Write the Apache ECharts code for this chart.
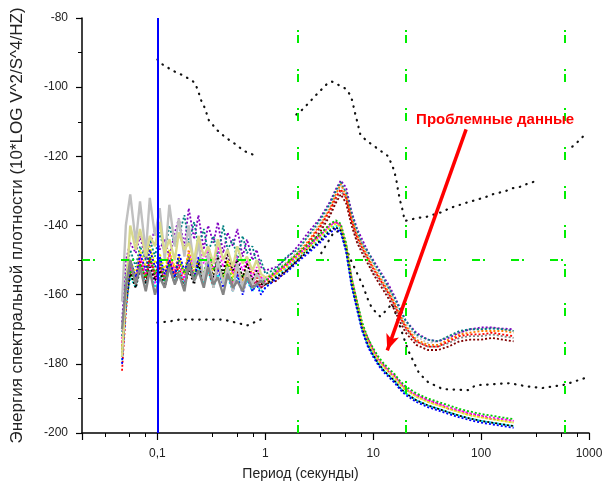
<!DOCTYPE html>
<html>
<head>
<meta charset="utf-8">
<script src="https://cdn.jsdelivr.net/npm/echarts@6/dist/echarts.min.js"></script>
<style>
html,body{margin:0;padding:0;background:#fff;}
#c{width:607px;height:486px;}
</style>
</head>
<body>
<div id="c"></div>
<script>
// ---- axis / tick data ----
const xMin = 0.02, xMax = 1000;
const yMin = -200, yMax = -80, yStep = 20;
const xTitle = 'Период (секунды)';
const yTitle = 'Энергия спектральной плотности (10*LOG V^2/S^4/HZ)';
const noteText = 'Проблемные данные';

// shared period grid (seconds)
const periodsLeft = [0.047, 0.051, 0.056, 0.063, 0.069, 0.078, 0.085, 0.095, 0.105, 0.117, 0.129, 0.145, 0.158, 0.178, 0.195, 0.219, 0.240, 0.269, 0.295, 0.331, 0.363, 0.407, 0.447, 0.501, 0.550, 0.617, 0.676, 0.759, 0.832, 0.912, 1.0];
const periodsRight = [1.26, 1.58, 2.0, 2.5, 3.2, 4.0, 4.5, 5.0, 5.6, 6.3, 7.1, 7.9, 8.9, 10, 11.2, 12.6, 14.1, 15.8, 17.8, 20, 25, 32, 40, 50, 63, 79, 100, 126, 158, 200];

// ---- PSD series (dB), left part then right part ----
const lightGrayDb = [-162, -140, -131, -145, -133, -148, -132, -143, -135, -150, -134, -146, -138, -149, -140, -152, -145, -156, -148, -158, -150, -157, -152, -159, -151, -158, -153, -157, -154, -156, -155,
  -153, -150.5, -147.5, -143, -139.5, -134.5, -131, -128.5, -130, -137.5, -142.5, -145, -148.5, -151, -154, -156.5, -158, -162, -165.5, -168.5, -172, -174, -173.5, -172, -171, -170, -170, -169.5, -170, -170.5];
const khakiDb = [-178, -160, -140, -147, -141, -149, -143, -146, -139, -148, -144, -150, -142, -147, -145, -150, -143, -149, -146, -151, -144, -150, -147, -152, -146, -151, -149, -153, -150, -154, -155,
  -154, -152, -149.5, -146, -143.5, -140, -139, -140.5, -146.5, -155.5, -163, -169.5, -173, -176.5, -179.5, -181, -182.5, -184.5, -186, -187.5, -189.5, -191, -192, -193, -194, -195, -195.5, -196, -196.5, -197];
const darkGrayDb = [-170, -158, -150, -157, -152, -159, -153, -160, -155, -158, -152, -157, -154, -159, -151, -156, -153, -158, -152, -157, -155, -160, -154, -158, -156, -159, -155, -158, -157, -156, -157,
  -155, -152.5, -149, -145.5, -141, -136.5, -132.5, -130, -132, -139, -144.5, -147, -150, -153.5, -155.5, -158, -160.5, -163.5, -167, -170, -173.5, -175, -175, -174, -172.5, -172, -172, -171.5, -172, -172.5];
const purpleDb = [-168, -150, -145, -148, -143, -150, -146, -141, -147, -144, -149, -142, -138, -146, -135, -144, -137, -147, -140, -145, -139, -148, -142, -146, -141, -149, -144, -150, -147, -152, -153,
  -152, -149.5, -146, -142, -138, -133, -129.5, -127, -129, -136, -141, -144, -147.5, -150, -152.5, -155, -157.5, -160.5, -164, -167.5, -171, -173, -173.5, -172.5, -171, -170, -169.5, -169.5, -169.8, -170];
const tealDb = [-172, -155, -147, -152, -146, -150, -144, -149, -142, -148, -140, -146, -143, -137, -145, -139, -146, -141, -148, -143, -149, -140, -147, -144, -150, -143, -148, -146, -151, -150, -154,
  -152.5, -149, -147, -143, -138.5, -133.5, -130, -127.5, -130.5, -136.5, -141.5, -145.5, -147.5, -150.5, -153, -155.5, -158.5, -161, -164.5, -167.5, -171.5, -173, -173.5, -172, -170.5, -170, -170, -169.8, -170, -170.5];
const orangeDb = [-175, -158, -150, -155, -149, -153, -147, -152, -150, -155, -148, -153, -149, -154, -147, -152, -150, -155, -149, -153, -151, -156, -150, -154, -152, -155, -151, -154, -153, -155, -155,
  -154, -151, -148, -144.5, -140, -135, -131, -128, -131.5, -138, -143, -146, -149, -152, -154.5, -157, -159.5, -162.5, -166, -169, -173, -174.5, -174.5, -173, -171.5, -171, -170.5, -170.5, -170.5, -171];
const redDb = [-182, -165, -152, -157, -150, -155, -149, -154, -151, -156, -150, -155, -152, -157, -151, -155, -150, -156, -152, -157, -151, -155, -153, -157, -152, -156, -154, -156, -155, -157, -156,
  -154.5, -151.5, -148.5, -145, -140.5, -135.5, -132, -129.5, -132, -138.5, -143.5, -146.5, -149.5, -152.5, -155, -157.5, -160, -163, -166.5, -169.5, -173.5, -175, -175, -173.5, -172, -171.5, -171.5, -171, -171.5, -172];
const wineDb = [-176, -160, -153, -158, -151, -156, -150, -155, -152, -157, -151, -156, -153, -158, -152, -156, -151, -157, -153, -158, -152, -156, -154, -158, -153, -157, -155, -157, -156, -158, -157,
  -156, -153, -150, -146.5, -142, -137, -133.5, -131, -133.5, -140, -145, -148, -151, -154, -156.5, -159, -161.5, -164.5, -168, -171, -174.5, -176, -176, -175, -173.5, -173, -173, -172.5, -173, -173.5];
const magentaDb = [-174, -160, -152, -156, -149, -154, -151, -157, -150, -155, -148, -153, -150, -156, -148, -152, -145, -151, -147, -153, -146, -152, -148, -154, -149, -153, -150, -155, -152, -155, -156,
  -153.5, -151.5, -148.5, -146, -143, -140, -139, -140, -145.5, -155.5, -162.5, -168.5, -173, -176, -178.5, -180.5, -182, -183.5, -185.5, -187, -189, -190.5, -191.5, -192.5, -193.5, -194.3, -195, -195.5, -196, -196.5];
const blueDb = [-180, -163, -150, -155, -148, -153, -147, -152, -149, -154, -150, -155, -148, -153, -150, -156, -149, -155, -151, -157, -152, -158, -153, -159, -154, -160, -155, -159, -157, -160, -158,
  -155.5, -153.5, -150.5, -148, -145, -142, -141, -142, -147.5, -157.5, -164.5, -170.5, -175, -178, -180.5, -182.5, -184, -185.5, -187.5, -189, -191, -192.5, -193.5, -194.5, -195.5, -196.3, -197, -197.5, -198, -198.5];
const greenDb = [-177, -162, -153, -157, -151, -155, -149, -154, -150, -156, -151, -155, -150, -154, -149, -155, -150, -154, -148, -153, -150, -155, -151, -156, -152, -155, -153, -156, -154, -156, -156,
  -153, -151, -148, -145.5, -142.5, -139.5, -138.5, -139.5, -145, -155, -162, -168, -172.5, -175.5, -178, -180, -181.5, -183, -185, -186.5, -188.5, -190, -191, -192, -193, -193.8, -194.5, -195, -195.5, -196];
const cyanDb = [-179, -164, -155, -158, -152, -157, -153, -158, -154, -157, -152, -156, -153, -157, -151, -156, -152, -157, -153, -158, -154, -157, -155, -159, -155, -158, -156, -159, -157, -159, -158,
  -154.5, -152.5, -149.5, -147, -144, -141, -140, -141, -147, -157, -164, -170, -174.5, -177.5, -180, -182, -183.5, -185, -187, -188.5, -190.5, -192, -193, -194, -195, -195.8, -196.5, -197, -197.5, -198];
const yellowDb = [-176, -161, -150, -154, -147, -152, -146, -151, -148, -153, -147, -152, -149, -154, -148, -153, -150, -155, -149, -154, -151, -156, -150, -155, -152, -156, -153, -156, -154, -156, -157,
  -154, -152, -149, -146.5, -143.5, -140.5, -139.5, -140.5, -146, -156, -163, -169, -173.5, -176.5, -179, -181, -182.5, -184, -186, -187.5, -189.5, -191, -192, -193, -194, -194.8, -195.5, -196, -196.5, -197];
const blackDb = [-178, -162, -154, -158, -153, -157, -152, -156, -153, -158, -152, -157, -154, -158, -153, -157, -151, -156, -150, -155, -149, -154, -148, -153, -150, -155, -151, -156, -153, -157, -157,
  -155, -153, -150, -147.5, -144.5, -141.5, -140.5, -141.5, -147, -157, -164, -170, -174.5, -177.5, -180, -182, -183.5, -185, -187, -188.5, -190.5, -192, -193, -194, -195, -195.8, -196.5, -197, -197.5, -198];
const pinkDb = [-175, -158, -153, -156, -151, -155, -150, -155, -152, -156, -150, -154, -151, -155, -149, -154, -150, -155, -151, -156, -152, -157, -153, -157, -154, -157, -155, -158, -156, -158, -157,
  -153.5, -151, -149, -145.5, -143, -139.5, -139, -140, -146, -155, -162.5, -169, -172.5, -176, -179, -180.5, -182.5, -183.5, -185.5, -187.5, -189, -190.5, -191.5, -193, -193.5, -194.5, -195, -196, -196, -196.5];

// ---- noise model curves (dotted black) ----
const nhnm1P = [0.1, 0.11, 0.14, 0.17, 0.21, 0.225, 0.245, 0.255, 0.267, 0.28, 0.30, 0.36, 0.43, 0.53, 0.63, 0.84];
const nhnm1Db = [-92, -93.3, -95.3, -96.5, -98.1, -99, -102.2, -103.9, -105, -106.8, -109.6, -112.5, -114.6, -116.5, -118.4, -120];
const nhnm2P = [1.94, 2.2, 2.4, 2.97, 3.83, 4.17, 5.6, 6.1, 6.4, 6.7, 7.0, 7.6, 8.6, 11.6, 13.8, 15.6, 16.4, 17.1, 17.9, 18.7, 19.6, 25.6, 30.4, 35, 43.6, 51, 76.5, 88, 102, 117, 130, 167, 197, 226, 290, 345];
const nhnm2Db = [-107.9, -106.5, -105.3, -102.2, -98.7, -98.4, -100.5, -102.2, -103.9, -106.8, -109.1, -113.7, -115.4, -118.3, -120, -124, -126.9, -130.4, -133.2, -135.5, -138.7, -137.8, -137.6, -137, -136.1, -135, -133.2, -132.7, -132.1, -131.5, -130.9, -130.1, -129.2, -128.9, -127.5, -127.2];
const nhnm3P = [700, 820, 960];
const nhnm3Db = [-117.2, -115.3, -113];
const nlnm1P = [0.1, 0.126, 0.16, 0.41, 0.57, 0.68, 1.0];
const nlnm1Db = [-168.1, -167.8, -167.2, -167.2, -168.3, -168.9, -166.6];
const nlnm2P = [3.3, 4.3, 5.0, 6.0, 8.0, 9.05, 9.8, 10.9, 11.6, 12.6, 15.0, 21, 26.6, 33, 39.6, 43.5, 75.6, 89, 184, 263, 370, 600, 900];
const nlnm2Db = [-148, -142, -141.5, -149, -157.3, -161.9, -164, -165.5, -166.3, -165.2, -162.6, -176, -182.7, -185.6, -186.5, -187.3, -187.6, -186.2, -185.6, -186.5, -187, -186, -184.2];

// ---- reference lines and annotation ----
const bluePeriod = 0.1;
const greenPeriods = [2, 20, 600];
const greenLevel = -150;
const arrowFrom = [72.6, -112.2];
const arrowTo = [13.5, -176.1];
const notePos = [135, -109.4];

const periods = periodsLeft.concat(periodsRight);
const nLeft = periodsLeft.length;
const pairs = (P, V) => P.map((p, i) => [p, V[i]]);

// [name, colour, values, drawn on top in the short-period band]
const colored = [
  ['lightgray', '#c0c0c0', lightGrayDb, true],
  ['khaki', '#d9d98c', khakiDb, true],
  ['darkgray', '#858585', darkGrayDb, true],
  ['purple', '#8000c0', purpleDb, false],
  ['teal', '#008080', tealDb, false],
  ['pink', '#e0008c', pinkDb, false],
  ['orange', '#ff8000', orangeDb, false],
  ['wine', '#800000', wineDb, false],
  ['red', '#ff0000', redDb, false],
  ['magenta', '#ff00ff', magentaDb, false],
  ['green', '#00cc00', greenDb, false],
  ['cyan', '#00e5e5', cyanDb, false],
  ['yellow', '#e8e800', yellowDb, false],
  ['black', '#000000', blackDb, false],
  ['blue', '#0000ff', blueDb, false]
];

const series = [];
const dotted = {color: '#111', width: 2.2, type: [0.5, 6.5], cap: 'round'};
const greenStyle = {color: '#00ee00', width: 2, type: [8, 3, 2, 26]};

// green guide lines (below data)
series.push({
  type: 'line', data: [], silent: true,
  markLine: {
    silent: true, symbol: ['none', 'none'], label: {show: false}, animation: false,
    lineStyle: greenStyle,
    data: greenPeriods.map(p => ({xAxis: p})).concat([{yAxis: greenLevel}])
  }
});
[[nhnm1P, nhnm1Db], [nhnm2P, nhnm2Db], [nhnm3P, nhnm3Db], [nlnm1P, nlnm1Db], [nlnm2P, nlnm2Db]].forEach(([P, V]) => {
  series.push({type: 'line', data: pairs(P, V), showSymbol: false, lineStyle: dotted, silent: true});
});
const all = pairs(periods, []);
colored.forEach(([name, color, vals, onTop]) => {
  const pts = pairs(periods, vals);
  series.push({
    name, type: 'line', data: onTop ? pts.slice(nLeft - 1) : pts, showSymbol: false, silent: true,
    lineStyle: {color, width: 1.8, type: [2, 2]}
  });
});
colored.filter(c => c[3]).forEach(([name, color, vals]) => {
  series.push({
    name, type: 'line', data: pairs(periods, vals).slice(0, nLeft), showSymbol: false, silent: true,
    lineStyle: {color, width: 2.4}
  });
});
// blue line, arrow and note (on top)
series.push({
  type: 'line', data: [], silent: true,
  markLine: {
    silent: true, animation: false, label: {show: false},
    data: [
      [{xAxis: bluePeriod, yAxis: yMin, symbol: 'none', lineStyle: {color: '#0000ff', width: 2, type: 'solid'}},
       {xAxis: bluePeriod, yAxis: yMax, symbol: 'none'}],
      [{coord: arrowFrom, symbol: 'none', lineStyle: {color: '#ff0000', width: 3.5, type: 'solid'}},
       {coord: arrowTo, symbol: 'arrow', symbolSize: [10, 16]}]
    ]
  },
  markPoint: {
    silent: true, animation: false,
    data: [{coord: notePos, symbol: 'circle', symbolSize: 1, itemStyle: {color: 'rgba(0,0,0,0)'},
      label: {show: true, position: 'inside', formatter: noteText, color: '#ff0000', fontSize: 15, fontWeight: 'bold', fontFamily: 'Liberation Sans'}}]
  }
});

const chart = echarts.init(document.getElementById('c'), null, {renderer: 'canvas'});
chart.setOption({
  animation: false,
  backgroundColor: '#fff',
  grid: {left: 82, right: 18, top: 18, bottom: 51},
  xAxis: {
    type: 'log', logBase: 10, min: xMin, max: xMax,
    name: xTitle, nameLocation: 'middle', nameGap: 34,
    nameTextStyle: {fontSize: 14, color: '#222', fontFamily: 'Liberation Sans', padding: [0, 70, 0, 0]},
    axisLine: {lineStyle: {color: '#000', width: 1.5}},
    axisTick: {show: true, length: 7, lineStyle: {color: '#000', width: 1.2}},
    minorTick: {show: true, splitNumber: 4, length: 4, lineStyle: {color: '#000', width: 1}},
    splitLine: {show: false},
    axisLabel: {
      color: '#222', fontSize: 12, fontFamily: 'Liberation Sans', margin: 15,
      formatter: v => {
        const l = Math.log10(v);
        if (Math.abs(l - Math.round(l)) > 1e-6) return '';
        const r = Math.round(l);
        return r < 0 ? '0,' + '1' : String(Math.pow(10, r));
      }
    }
  },
  yAxis: {
    type: 'value', min: yMin, max: yMax, interval: yStep,
    name: yTitle, nameLocation: 'middle', nameGap: 56, nameRotate: 90,
    nameTextStyle: {fontSize: 17, color: '#222', fontFamily: 'Liberation Sans'},
    axisLine: {show: true, lineStyle: {color: '#000', width: 1.5}},
    axisTick: {show: true, length: 6, lineStyle: {color: '#000', width: 1.2}},
    minorTick: {show: true, splitNumber: 2, length: 4, lineStyle: {color: '#000', width: 1}},
    splitLine: {show: false},
    axisLabel: {color: '#222', fontSize: 12, fontFamily: 'Liberation Sans', margin: 14}
  },
  series
});
</script>
</body>
</html>
